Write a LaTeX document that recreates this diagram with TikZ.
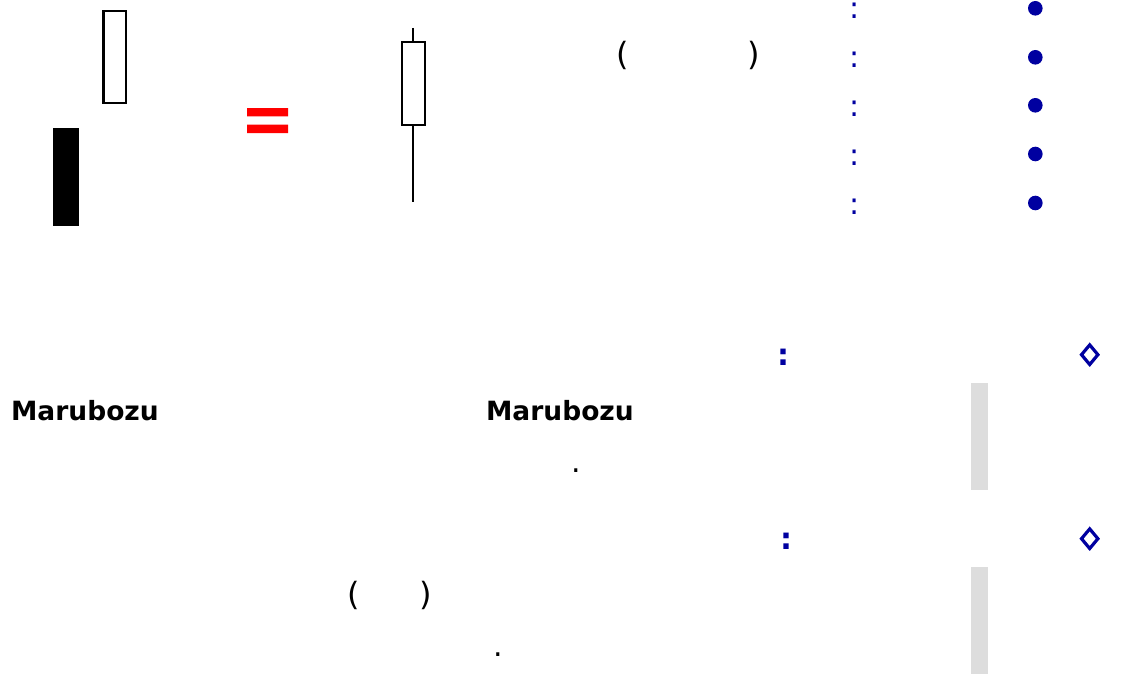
\documentclass[tikz,border=0pt]{standalone}
\usepackage{fontspec}
\setmainfont{DejaVu Sans}
\definecolor{markblue}{RGB}{0,0,160}
\definecolor{bargray}{RGB}{221,221,221}
\begin{document}
\begin{tikzpicture}[x=1pt,y=-1pt,line width=2.2pt,
  paren/.style={inner sep=0pt,anchor=base,font=\fontsize{32}{38}\selectfont},
  stop/.style={inner sep=0pt,anchor=base,font=\fontsize{30}{36}\selectfont},
  colon/.style={inner sep=0pt,anchor=base,text=markblue,font=\fontsize{30}{36}\selectfont},
  boldcolon/.style={colon,font=\bfseries\fontsize{30}{36}\selectfont},
  title/.style={inner sep=0pt,anchor=base west,font=\bfseries\fontsize{26.5}{32}\selectfont}]
\useasboundingbox (0,0) rectangle (1122,677);

\draw (103.4,10.8) rectangle (125.9,103.2);
\fill (53.3,127.7) rectangle (79,225.7);
\fill[red] (247,108) rectangle (288,116.3) (247,124.7) rectangle (288,133);
\draw (413.3,28) -- (413.3,41.8) (413.3,124.6) -- (413.3,202.3);
\draw (402.1,41.8) rectangle (424.9,124.6);

\node[paren] (lpa) at (623,66) {(};
\node[paren] (rpa) at (753.5,66) {)};

\foreach \y/\yb in {19/8.3,68/57.3,116/105.3,165/154,214/203}{
\node[colon] at (854.5,\y) {:};
\fill[markblue] (1035.3,\yb) circle (7.3);
}

\node[boldcolon] (ca) at (783,365) {:};
\node[boldcolon] (cb) at (786,549) {:};
\foreach \yd in {354.7,538.7}
\draw[markblue,line width=3.2pt] (1089.7,\yd-9.8) -- (1097.9,\yd) -- (1089.7,\yd+9.8) -- (1081.5,\yd) -- cycle;

\fill[bargray] (971,383) rectangle (988,490);
\fill[bargray] (971,567) rectangle (988,674);

\node[title] (mara) at (10,420) {Marubozu};
\node[title] (marb) at (485,420) {Marubozu};
\node[stop] (sta) at (576.5,472) {.};

\node[paren] (lpb) at (354,605) {(};
\node[paren] (rpb) at (426,605) {)};
\node[stop] (stb) at (498.5,656) {.};
\end{tikzpicture}
\end{document}
